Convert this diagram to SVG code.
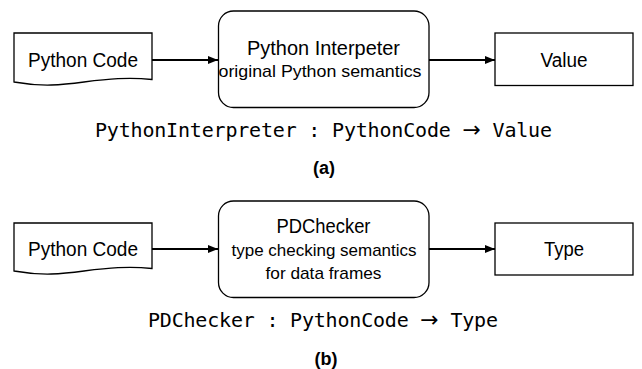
<svg xmlns="http://www.w3.org/2000/svg" width="642" height="369" viewBox="0 0 642 369">
<style>
.shape{fill:#fff;stroke:#000;stroke-width:1.3}
.conn{stroke:#000;stroke-width:2;fill:none}
.t{font-family:"Liberation Sans",Arial,sans-serif;fill:#000;text-anchor:middle}
.big{font-size:20px}
.small{font-size:17px}
.mono{font-family:"DejaVu Sans Mono","Liberation Mono",monospace;font-size:20px;fill:#000}
.arr{font-family:"DejaVu Sans","Liberation Sans",sans-serif;font-size:22px}
.cap{font-family:"Liberation Sans",Arial,sans-serif;font-size:18px;font-weight:bold;fill:#000;text-anchor:middle}
</style>
<defs>
<marker id="ah" viewBox="0 0 10 8" refX="10" refY="4" markerWidth="10" markerHeight="8" markerUnits="userSpaceOnUse" orient="auto">
<path d="M0,0 L10,4 L0,8 Z" fill="#000"/>
</marker>
</defs>
<rect width="642" height="369" fill="#fff"/>
<g id="connectors">
<line class="conn" x1="152" y1="60" x2="218" y2="60" marker-end="url(#ah)"/>
<line class="conn" x1="429" y1="60" x2="495" y2="60" marker-end="url(#ah)"/>
<line class="conn" x1="152" y1="249" x2="218" y2="249" marker-end="url(#ah)"/>
<line class="conn" x1="429" y1="249" x2="495" y2="249" marker-end="url(#ah)"/>
</g>
<g id="code-a">
<path class="shape" d="M14,33 H152 V79.5 C128,77 108,79 84,82 C62,85 42,87 14,82 Z"/>
<text class="t big" x="83" y="67" textLength="110" lengthAdjust="spacingAndGlyphs">Python Code</text>
</g>
<g id="interp-a">
<rect class="shape" x="218.5" y="11" width="210.5" height="96.5" rx="15" ry="15"/>
<text class="t big" x="323.5" y="55" textLength="153" lengthAdjust="spacingAndGlyphs">Python Interpeter</text>
<text class="t small" x="320" y="77" textLength="203" lengthAdjust="spacingAndGlyphs">original Python semantics</text>
</g>
<g id="value-a">
<rect class="shape" x="495" y="33" width="138" height="52.5"/>
<text class="t big" x="564" y="67" textLength="47" lengthAdjust="spacingAndGlyphs">Value</text>
</g>
<text class="mono" x="95" y="137" textLength="457" lengthAdjust="spacing">PythonInterpreter : PythonCode <tspan class="arr">→</tspan> Value</text>
<text class="cap" x="324" y="174">(a)</text>
<g id="code-b">
<path class="shape" d="M14,223 H152 V268.5 C128,266 108,268 84,271 C62,274 42,276 14,271 Z"/>
<text class="t big" x="83" y="256" textLength="110" lengthAdjust="spacingAndGlyphs">Python Code</text>
</g>
<g id="checker-b">
<rect class="shape" x="218.5" y="201" width="210.5" height="96.5" rx="15" ry="15"/>
<text class="t big" x="323.5" y="233" textLength="94" lengthAdjust="spacingAndGlyphs">PDChecker</text>
<text class="t small" x="324" y="256" textLength="185" lengthAdjust="spacingAndGlyphs">type checking semantics</text>
<text class="t small" x="323.5" y="279" textLength="116" lengthAdjust="spacingAndGlyphs">for data frames</text>
</g>
<g id="type-b">
<rect class="shape" x="495" y="223" width="138" height="52"/>
<text class="t big" x="564" y="256" textLength="40" lengthAdjust="spacingAndGlyphs">Type</text>
</g>
<text class="mono" x="148" y="327" textLength="350" lengthAdjust="spacing">PDChecker : PythonCode <tspan class="arr">→</tspan> Type</text>
<text class="cap" x="326" y="365">(b)</text>
</svg>
